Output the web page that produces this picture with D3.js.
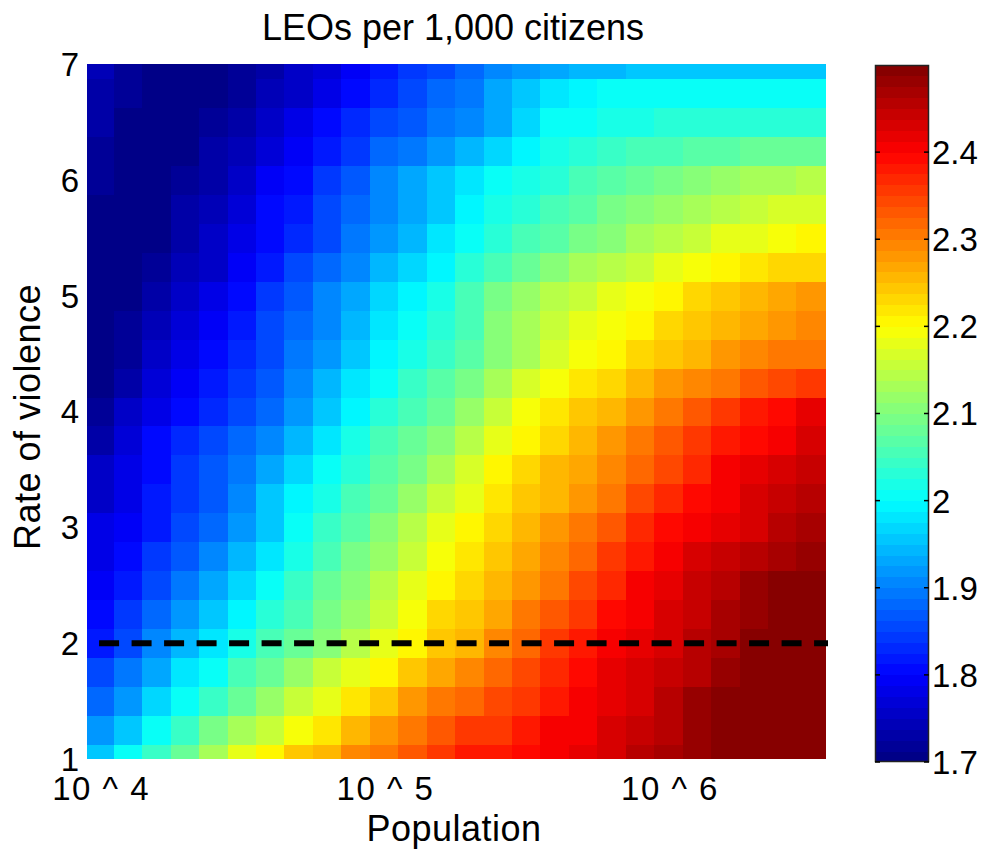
<!DOCTYPE html>
<html>
<head>
<meta charset="utf-8">
<script src="https://cdn.jsdelivr.net/npm/d3@7"></script>
<style>
  html, body { margin: 0; padding: 0; background: #fff; }
  svg { display: block; }
  text { font-family: "Liberation Sans", Arial, Helvetica, sans-serif; fill: #000; }
</style>
</head>
<body>
<svg id="chart" width="987" height="849"></svg>
<script>
// ---------------- data ----------------
const title = "LEOs per 1,000 citizens";
const xLabel = "Population";
const yLabel = "Rate of violence";

// column centres, log10(population)
const logPopulation = [4.0, 4.1, 4.2, 4.3, 4.4, 4.5, 4.6, 4.7, 4.8, 4.9, 5.0, 5.1, 5.2,
                       5.3, 5.4, 5.5, 5.6, 5.7, 5.8, 5.9, 6.0, 6.1, 6.2, 6.3, 6.4, 6.5];
// row centres, rate of violence
const violence = [1, 1.25, 1.5, 1.75, 2, 2.25, 2.5, 2.75, 3, 3.25, 3.5, 3.75, 4,
                  4.25, 4.5, 4.75, 5, 5.25, 5.5, 5.75, 6, 6.25, 6.5, 6.75, 7];

// LEOs per 1,000 citizens, one array per violence row
const leo_v1_00 = [1.96, 2.00, 2.04, 2.08, 2.13, 2.18, 2.21, 2.24, 2.26, 2.29, 2.31, 2.33, 2.36, 2.375, 2.385, 2.395, 2.41, 2.42, 2.435, 2.45, 2.465, 2.48, 2.49, 2.50, 2.51, 2.50];
const leo_v1_25 = [1.92, 1.96, 2.00, 2.045, 2.09, 2.13, 2.16, 2.195, 2.22, 2.25, 2.28, 2.30, 2.33, 2.35, 2.36, 2.38, 2.40, 2.41, 2.43, 2.44, 2.46, 2.48, 2.495, 2.505, 2.51, 2.50];
const leo_v1_50 = [1.885, 1.92, 1.965, 2.01, 2.045, 2.08, 2.115, 2.15, 2.185, 2.215, 2.245, 2.275, 2.30, 2.32, 2.34, 2.36, 2.385, 2.405, 2.42, 2.435, 2.45, 2.475, 2.50, 2.51, 2.51, 2.50];
const leo_v1_75 = [1.85, 1.89, 1.93, 1.975, 2.01, 2.05, 2.08, 2.115, 2.15, 2.18, 2.21, 2.24, 2.27, 2.29, 2.315, 2.34, 2.37, 2.395, 2.415, 2.43, 2.44, 2.46, 2.485, 2.50, 2.505, 2.50];
const leo_v2_00 = [1.82, 1.86, 1.90, 1.94, 1.98, 2.02, 2.05, 2.08, 2.11, 2.14, 2.18, 2.21, 2.24, 2.26, 2.29, 2.32, 2.35, 2.385, 2.41, 2.42, 2.435, 2.45, 2.47, 2.49, 2.50, 2.50];
const leo_v2_25 = [1.805, 1.84, 1.88, 1.915, 1.955, 1.995, 2.03, 2.06, 2.09, 2.12, 2.16, 2.195, 2.225, 2.245, 2.27, 2.30, 2.33, 2.36, 2.39, 2.41, 2.43, 2.445, 2.465, 2.48, 2.495, 2.495];
const leo_v2_50 = [1.795, 1.82, 1.855, 1.89, 1.93, 1.97, 2.01, 2.04, 2.075, 2.105, 2.145, 2.18, 2.21, 2.23, 2.255, 2.285, 2.31, 2.34, 2.37, 2.40, 2.42, 2.44, 2.46, 2.475, 2.49, 2.49];
const leo_v2_75 = [1.785, 1.805, 1.84, 1.87, 1.905, 1.945, 1.985, 2.02, 2.055, 2.09, 2.12, 2.16, 2.195, 2.215, 2.24, 2.27, 2.29, 2.32, 2.35, 2.38, 2.405, 2.425, 2.44, 2.455, 2.47, 2.48];
const leo_v3_00 = [1.775, 1.79, 1.82, 1.85, 1.88, 1.92, 1.96, 2.005, 2.04, 2.07, 2.10, 2.14, 2.18, 2.20, 2.225, 2.25, 2.275, 2.30, 2.33, 2.365, 2.395, 2.41, 2.42, 2.435, 2.45, 2.47];
const leo_v3_25 = [1.76, 1.785, 1.815, 1.845, 1.87, 1.91, 1.95, 1.99, 2.02, 2.05, 2.085, 2.12, 2.155, 2.185, 2.215, 2.24, 2.26, 2.285, 2.31, 2.34, 2.37, 2.39, 2.41, 2.425, 2.44, 2.455];
const leo_v3_50 = [1.75, 1.78, 1.81, 1.84, 1.865, 1.895, 1.935, 1.97, 2.005, 2.035, 2.065, 2.095, 2.135, 2.17, 2.205, 2.225, 2.25, 2.27, 2.295, 2.32, 2.345, 2.37, 2.40, 2.415, 2.43, 2.445];
const leo_v3_75 = [1.735, 1.765, 1.80, 1.825, 1.85, 1.875, 1.91, 1.94, 1.98, 2.015, 2.05, 2.08, 2.11, 2.14, 2.18, 2.21, 2.235, 2.255, 2.28, 2.30, 2.325, 2.35, 2.375, 2.395, 2.41, 2.43];
const leo_v4_00 = [1.72, 1.75, 1.785, 1.81, 1.83, 1.85, 1.885, 1.915, 1.955, 1.995, 2.03, 2.06, 2.085, 2.115, 2.155, 2.195, 2.22, 2.24, 2.26, 2.285, 2.305, 2.33, 2.35, 2.375, 2.395, 2.415];
const leo_v4_25 = [1.71, 1.735, 1.765, 1.795, 1.815, 1.84, 1.87, 1.90, 1.94, 1.975, 2.01, 2.04, 2.065, 2.09, 2.13, 2.165, 2.19, 2.215, 2.235, 2.255, 2.275, 2.295, 2.31, 2.33, 2.345, 2.36];
const leo_v4_50 = [1.705, 1.72, 1.75, 1.78, 1.80, 1.83, 1.86, 1.89, 1.92, 1.955, 1.99, 2.02, 2.045, 2.07, 2.105, 2.135, 2.165, 2.19, 2.21, 2.23, 2.245, 2.26, 2.275, 2.29, 2.30, 2.31];
const leo_v4_75 = [1.70, 1.715, 1.74, 1.765, 1.79, 1.815, 1.85, 1.88, 1.91, 1.945, 1.98, 2.005, 2.03, 2.06, 2.10, 2.13, 2.15, 2.175, 2.19, 2.21, 2.23, 2.245, 2.26, 2.27, 2.285, 2.29];
const leo_v5_00 = [1.70, 1.71, 1.73, 1.75, 1.775, 1.805, 1.84, 1.87, 1.90, 1.935, 1.965, 1.995, 2.015, 2.05, 2.095, 2.12, 2.14, 2.16, 2.175, 2.195, 2.21, 2.225, 2.24, 2.255, 2.265, 2.275];
const leo_v5_25 = [1.70, 1.705, 1.72, 1.74, 1.76, 1.79, 1.82, 1.85, 1.88, 1.91, 1.94, 1.97, 1.995, 2.03, 2.06, 2.085, 2.105, 2.125, 2.14, 2.16, 2.175, 2.19, 2.205, 2.215, 2.225, 2.235];
const leo_v5_50 = [1.705, 1.70, 1.71, 1.73, 1.75, 1.78, 1.805, 1.835, 1.86, 1.89, 1.915, 1.945, 1.975, 2.005, 2.03, 2.05, 2.07, 2.09, 2.11, 2.13, 2.145, 2.16, 2.175, 2.185, 2.195, 2.20];
const leo_v5_75 = [1.71, 1.705, 1.71, 1.725, 1.74, 1.77, 1.80, 1.82, 1.85, 1.88, 1.91, 1.935, 1.96, 1.99, 2.015, 2.035, 2.05, 2.07, 2.09, 2.105, 2.12, 2.135, 2.145, 2.155, 2.165, 2.17];
const leo_v6_00 = [1.715, 1.71, 1.71, 1.72, 1.735, 1.76, 1.79, 1.81, 1.84, 1.87, 1.90, 1.925, 1.95, 1.975, 2.00, 2.02, 2.035, 2.05, 2.065, 2.08, 2.095, 2.105, 2.115, 2.125, 2.135, 2.14];
const leo_v6_25 = [1.72, 1.71, 1.705, 1.71, 1.725, 1.745, 1.77, 1.79, 1.82, 1.845, 1.875, 1.895, 1.92, 1.945, 1.965, 1.99, 2.015, 2.03, 2.04, 2.05, 2.06, 2.065, 2.07, 2.075, 2.08, 2.085];
const leo_v6_50 = [1.725, 1.71, 1.705, 1.705, 1.715, 1.73, 1.75, 1.775, 1.80, 1.825, 1.85, 1.87, 1.89, 1.91, 1.935, 1.965, 2.00, 2.01, 2.015, 2.02, 2.025, 2.03, 2.03, 2.03, 2.035, 2.035];
const leo_v6_75 = [1.73, 1.715, 1.705, 1.705, 1.71, 1.72, 1.74, 1.76, 1.785, 1.81, 1.83, 1.855, 1.875, 1.895, 1.925, 1.95, 1.975, 1.995, 2.00, 2.00, 2.005, 2.005, 2.005, 2.005, 2.00, 2.00];
const leo_v7_00 = [1.74, 1.72, 1.71, 1.71, 1.71, 1.715, 1.73, 1.75, 1.77, 1.795, 1.815, 1.84, 1.86, 1.88, 1.90, 1.915, 1.93, 1.94, 1.945, 1.95, 1.955, 1.955, 1.96, 1.96, 1.96, 1.96];
const leoRows = [leo_v1_00, leo_v1_25, leo_v1_50, leo_v1_75, leo_v2_00, leo_v2_25, leo_v2_50,
                 leo_v2_75, leo_v3_00, leo_v3_25, leo_v3_50, leo_v3_75, leo_v4_00, leo_v4_25,
                 leo_v4_50, leo_v4_75, leo_v5_00, leo_v5_25, leo_v5_50, leo_v5_75, leo_v6_00,
                 leo_v6_25, leo_v6_50, leo_v6_75, leo_v7_00];

const xTickValues = [1e4, 1e5, 1e6];
const xTickLabels = ["10 ^ 4", "10 ^ 5", "10 ^ 6"];
const yTickValues = [1, 2, 3, 4, 5, 6, 7];
const cbarTickValues = [1.7, 1.8, 1.9, 2.0, 2.1, 2.2, 2.3, 2.4];
const referenceViolence = 2;   // dashed line
const colorDomain = [1.7, 2.5];
const xDomainLog = [3.954, 6.559];

// ---------------- layout ----------------
const svg = d3.select("#chart");
const plot = { left: 87, right: 828, top: 64, bottom: 759 };
const cbar = { left: 875, right: 929, top: 65, bottom: 762 };

const x = d3.scaleLog()
  .domain([Math.pow(10, xDomainLog[0]), Math.pow(10, xDomainLog[1])])
  .range([plot.left, plot.right]);
const y = d3.scaleLinear().domain([1, 7]).range([plot.bottom, plot.top]);

// MATLAB jet, 64 discrete levels
const NC = 64;
function jet(t) {
  const c = v => Math.max(0, Math.min(1, v));
  const r = c(1.5 - Math.abs(4 * t - 3));
  const g = c(1.5 - Math.abs(4 * t - 2));
  const b = c(1.5 - Math.abs(4 * t - 1));
  return d3.rgb(r * 255, g * 255, b * 255).toString();
}
const jetColors = d3.range(NC).map(i => jet((i + 0.5) / NC));
const color = d3.scaleQuantize().domain(colorDomain).range(jetColors);
const colorClamped = v => color(Math.max(colorDomain[0], Math.min(colorDomain[1] - 1e-9, v)));

// ---------------- heat map cells ----------------
const dLog = 0.05, dV = 0.125;
const cells = [];
leoRows.forEach((row, j) => {
  row.forEach((val, i) => {
    const lp = logPopulation[i];
    const x0 = Math.max(xDomainLog[0], lp - dLog);
    const x1 = Math.min(xDomainLog[1], lp + dLog);
    const v0 = Math.max(1, violence[j] - dV);
    const v1 = Math.min(7, violence[j] + dV);
    cells.push({ x0: Math.pow(10, x0), x1: Math.pow(10, x1), v0, v1, val });
  });
});

svg.append("g")
  .attr("shape-rendering", "crispEdges")
  .selectAll("rect")
  .data(cells)
  .join("rect")
  .attr("x", d => Math.floor(x(d.x0)))
  .attr("y", d => Math.floor(y(d.v1)))
  .attr("width", d => Math.ceil(x(d.x1)) - Math.floor(x(d.x0)))
  .attr("height", d => Math.ceil(y(d.v0)) - Math.floor(y(d.v1)))
  .attr("fill", d => colorClamped(d.val));

// dashed reference line at violence = 2
svg.append("line")
  .attr("x1", x(1e4) - 1).attr("x2", plot.right)
  .attr("y1", y(referenceViolence)).attr("y2", y(referenceViolence))
  .attr("stroke", "#000")
  .attr("stroke-width", 6)
  .attr("stroke-dasharray", "20 12.5");

// ---------------- axes (labels only) ----------------
const fs = 33;
svg.append("g").selectAll("text")
  .data(xTickValues)
  .join("text")
  .attr("x", d => x(d) + 1)
  .attr("y", 800)
  .attr("text-anchor", "middle")
  .attr("font-size", fs)
  .attr("letter-spacing", 1.5)
  .text((d, i) => xTickLabels[i]);

svg.append("g").selectAll("text")
  .data(yTickValues)
  .join("text")
  .attr("x", 79)
  .attr("y", d => y(d))
  .attr("dy", "0.36em")
  .attr("text-anchor", "end")
  .attr("font-size", fs)
  .text(d => d);

svg.append("text")
  .attr("x", 454)
  .attr("y", 841)
  .attr("text-anchor", "middle")
  .attr("font-size", 36)
  .attr("letter-spacing", 0.5)
  .text(xLabel);

svg.append("text")
  .attr("transform", `translate(40, 417) rotate(-90)`)
  .attr("text-anchor", "middle")
  .attr("font-size", 36)
  .attr("letter-spacing", 0.5)
  .text(yLabel);

svg.append("text")
  .attr("x", 453)
  .attr("y", 40)
  .attr("text-anchor", "middle")
  .attr("font-size", 36)
  .text(title);

// ---------------- colour bar ----------------
const cy = d3.scaleLinear().domain(colorDomain).range([cbar.bottom, cbar.top]);
const step = (colorDomain[1] - colorDomain[0]) / NC;
svg.append("g")
  .attr("shape-rendering", "crispEdges")
  .selectAll("rect")
  .data(jetColors)
  .join("rect")
  .attr("x", cbar.left)
  .attr("width", cbar.right - cbar.left)
  .attr("y", (d, i) => Math.floor(cy(colorDomain[0] + (i + 1) * step)))
  .attr("height", (d, i) => Math.ceil(cy(colorDomain[0] + i * step)) - Math.floor(cy(colorDomain[0] + (i + 1) * step)))
  .attr("fill", d => d);

svg.append("rect")
  .attr("x", cbar.left + 0.5).attr("y", cbar.top + 0.5)
  .attr("width", cbar.right - cbar.left - 1).attr("height", cbar.bottom - cbar.top - 1)
  .attr("fill", "none").attr("stroke", "#222").attr("stroke-width", 1.5);

const cbTicks = svg.append("g");
cbTicks.selectAll("line.l")
  .data(cbarTickValues)
  .join("line")
  .attr("x1", cbar.left).attr("x2", cbar.left + 5)
  .attr("y1", d => cy(d)).attr("y2", d => cy(d))
  .attr("stroke", "#000").attr("stroke-width", 1.5);
cbTicks.selectAll("line.r")
  .data(cbarTickValues)
  .join("line")
  .attr("x1", cbar.right - 5).attr("x2", cbar.right)
  .attr("y1", d => cy(d)).attr("y2", d => cy(d))
  .attr("stroke", "#000").attr("stroke-width", 1.5);
cbTicks.selectAll("text")
  .data(cbarTickValues)
  .join("text")
  .attr("x", cbar.right + 3)
  .attr("y", d => cy(d))
  .attr("dy", "0.36em")
  .attr("font-size", fs)
  .text(d => d3.format("")(+d.toFixed(1)));
</script>
</body>
</html>
